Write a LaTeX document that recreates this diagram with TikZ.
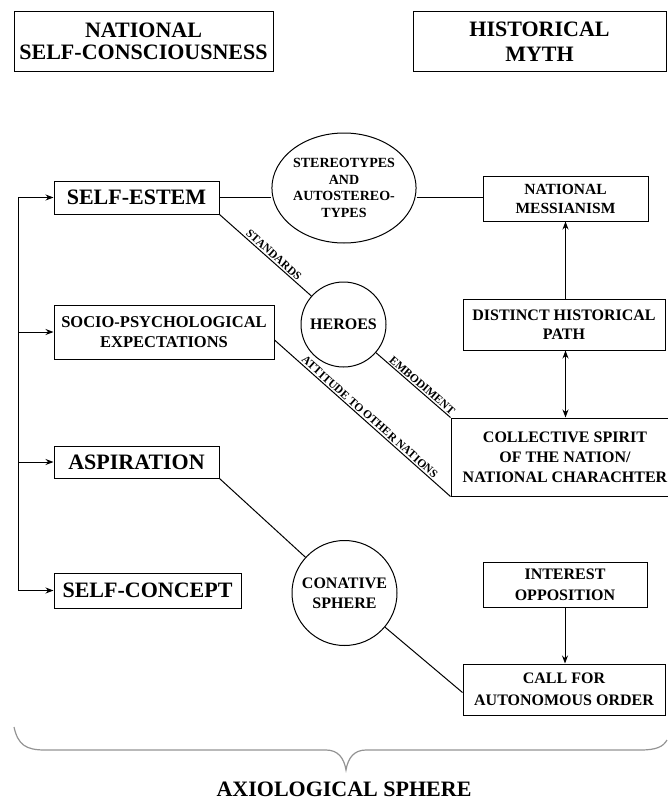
\documentclass[tikz,border=0pt]{standalone}
\usepackage{fontspec}
\setmainfont{Liberation Serif}
\usetikzlibrary{arrows.meta,shapes.geometric}
\begin{document}
\begin{tikzpicture}[x=1pt,y=-1pt,
  box/.style={draw,line width=1pt,inner sep=0pt,align=center,fill=white},
  huge/.style={font=\bfseries\fontsize{22}{22}\selectfont},
  med/.style={font=\bfseries\fontsize{16}{20}\selectfont},
  lab/.style={font=\bfseries\fontsize{11.5}{12}\selectfont,inner sep=1.5pt,sloped,above},
  ln/.style={line width=1pt},
  arr/.style={line width=1pt,-{Stealth[length=8pt,width=6pt]}},
  darr/.style={line width=1pt,{Stealth[length=8pt,width=6pt]}-{Stealth[length=8pt,width=6pt]}}]
\useasboundingbox (0,0) rectangle (668,800);

% headings
\node[box,huge,minimum width=259pt,minimum height=59pt,font=\bfseries\fontsize{22}{21.5}\selectfont] (nsc) at (143.5,41.5) {NATIONAL\\SELF-CONSCIOUSNESS};
\node[box,minimum width=253pt,minimum height=59pt,font=\bfseries\fontsize{22}{25}\selectfont] (hm) at (539.5,41.5) {HISTORICAL\\MYTH};

% left column
\node[box,huge,minimum width=165pt,minimum height=33pt] (se) at (136.5,197.5) {SELF-ESTEM};
\node[box,minimum width=220pt,minimum height=54pt,font=\bfseries\fontsize{16.5}{20}\selectfont] (sp) at (164,332) {SOCIO-PSYCHOLOGICAL\\EXPECTATIONS};
\node[box,huge,minimum width=165pt,minimum height=32pt] (asp) at (136.5,462) {ASPIRATION};
\node[box,huge,minimum width=187pt,minimum height=35pt] (scn) at (147.5,590.5) {SELF-CONCEPT};

% circles
\node[draw,ellipse,line width=1pt,inner sep=0pt,fill=white,align=center,minimum width=118pt,minimum height=110pt,font=\bfseries\fontsize{14}{16.7}\selectfont] (stereo) at (344,188) {STEREOTYPES\\AND\\AUTOSTEREO-\\TYPES};
\node[draw,circle,line width=1pt,inner sep=0pt,fill=white,minimum size=85pt,med] (heroes) at (343.5,324.5) {HEROES};
\node[draw,circle,line width=1pt,inner sep=0pt,fill=white,align=center,minimum size=105pt,med] (con) at (344.5,593) {CONATIVE\\SPHERE};

% right column
\node[box,minimum width=165pt,minimum height=45pt,font=\bfseries\fontsize{15.5}{19}\selectfont] (nm) at (565.5,198.5) {NATIONAL\\MESSIANISM};
\node[box,med,minimum width=202pt,minimum height=51pt,font=\bfseries\fontsize{16}{19}\selectfont] (dhp) at (564,324.5) {DISTINCT HISTORICAL\\PATH};
\node[box,med,minimum width=228pt,minimum height=78pt] (cs) at (565,457) {COLLECTIVE SPIRIT\\OF THE NATION/\\NATIONAL CHARACHTER};
\node[box,minimum width=164pt,minimum height=45pt,font=\bfseries\fontsize{16}{21}\selectfont] (io) at (565,584.5) {INTEREST\\OPPOSITION};
\node[box,minimum width=202pt,minimum height=51pt,font=\bfseries\fontsize{16}{22}\selectfont] (call) at (564,689.5) {CALL FOR\\AUTONOMOUS ORDER};

% left bus
\coordinate (bus) at (18,198);
\draw[ln] (bus |- se.west) -- (bus |- scn.west);
\draw[arr] (bus |- se.west) -- (se.west);
\draw[arr] (bus |- sp.west) -- (sp.west);
\draw[arr] (bus |- asp.west) -- (asp.west);
\draw[arr] (bus |- scn.west) -- (scn.west);

% connections
\draw[ln] (se.east) -- (stereo.west |- se.east);
\draw[ln] (stereo.east |- se.east) -- (nm.west |- se.east);
\draw[ln] (se.south east) -- node[lab,pos=0.55]{STANDARDS} (heroes);
\draw[ln] (heroes) -- node[lab,pos=0.57]{EMBODIMENT} (cs.north west);
\draw[ln] ([yshift=-8pt]sp.east) -- node[lab,pos=0.52]{ATTITUDE TO OTHER NATIONS} (cs.south west);
\draw[ln] (asp.south east) -- (con);
\draw[ln] (con) -- ([yshift=-3pt]call.west);

\draw[arr] (nm.south |- dhp.north) -- (nm.south);
\draw[darr] (nm.south |- dhp.south) -- (nm.south |- cs.north);
\draw[arr] (io.south) -- (io.south |- call.north);

% brace
\draw[gray!85,line width=1.2pt] (14,727) .. controls (18,745) and (26,750) .. (45,750) -- (326,750)
  .. controls (338,750) and (344,758) .. (346,770)
  .. controls (348,758) and (354,750) .. (366,750) -- (640,750)
  .. controls (656,750) and (663,747) .. (667,740);
\node[huge] (axio) at (344,789) {AXIOLOGICAL SPHERE};
\end{tikzpicture}
\end{document}
